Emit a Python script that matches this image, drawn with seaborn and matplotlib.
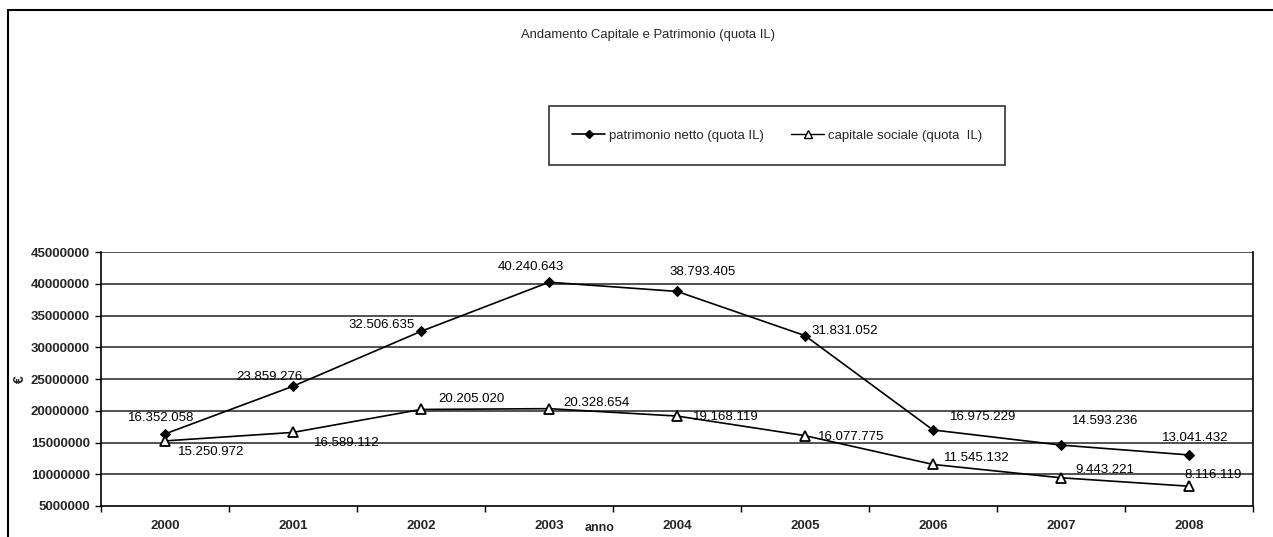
import matplotlib
matplotlib.use("Agg")
import matplotlib.pyplot as plt
from matplotlib.patches import Rectangle
from matplotlib.lines import Line2D
from matplotlib.ticker import FuncFormatter, FixedLocator
import numpy as np
import pandas as pd
import seaborn as sns

# --- data -------------------------------------------------------------
anni = ["2000", "2001", "2002", "2003", "2004", "2005", "2006", "2007", "2008"]
patrimonio_netto = [16352058, 23859276, 32506635, 40240643, 38793405,
                    31831052, 16975229, 14593236, 13041432]
capitale_sociale = [15250972, 16589112, 20205020, 20328654, 19168119,
                    16077775, 11545132, 9443221, 8116119]
serie_patrimonio = "patrimonio netto (quota IL)"
serie_capitale = "capitale sociale (quota  IL)"
titolo = "Andamento Capitale e Patrimonio (quota IL)"
y_ticks = [5000000, 10000000, 15000000, 20000000, 25000000,
           30000000, 35000000, 40000000, 45000000]

# label placement (offset in pixels from each point)
off_patrimonio = [(-4, 16), (-24, 9), (-39, 6), (-18, 15), (26, 19),
                  (40, 5), (50, 13), (44, 24), (6, 17)]
off_capitale = [(46, -11), (54, -11), (50, 10), (47, 6), (49, -1),
                (46, -1), (44, 6), (44, 8), (24, 11)]

df = pd.DataFrame({
    "anno": anni * 2,
    "valore": patrimonio_netto + capitale_sociale,
    "serie": [serie_patrimonio] * len(anni) + [serie_capitale] * len(anni),
})

sns.set_theme(style="white")
plt.rcParams["font.family"] = ["Liberation Sans", "DejaVu Sans"]

fig = plt.figure(figsize=(12.73, 5.37), dpi=100)
ax = fig.add_axes([101 / 1273, 31 / 537, (1253 - 101) / 1273, (506 - 252) / 537])

# horizontal gridlines
for yv in y_ticks[1:]:
    ax.axhline(yv, color="#222222", lw=1.1, zorder=0)

d_pat = df[df["serie"] == serie_patrimonio]
d_cap = df[df["serie"] == serie_capitale]
sns.lineplot(data=d_pat, x="anno", y="valore", ax=ax, color="black", lw=1.2,
             marker="D", markersize=5.5, markerfacecolor="black",
             markeredgecolor="black", legend=False, sort=False, zorder=3)
sns.lineplot(data=d_cap, x="anno", y="valore", ax=ax, color="black", lw=1.2,
             marker="^", markersize=7, markerfacecolor="white",
             markeredgecolor="black", markeredgewidth=1.3, legend=False,
             sort=False, zorder=3)

def fmt_it(v):
    return f"{v:,}".replace(",", ".")

for i, v in enumerate(patrimonio_netto):
    ax.annotate(fmt_it(v), (i, v), xytext=off_patrimonio[i],
                textcoords="offset pixels", ha="center", va="center",
                fontsize=9.5, color="black", zorder=4)
for i, v in enumerate(capitale_sociale):
    ax.annotate(fmt_it(v), (i, v), xytext=off_capitale[i],
                textcoords="offset pixels", ha="center", va="center",
                fontsize=9.5, color="black", zorder=4)

# axes
ax.set_xlim(-0.5, len(anni) - 0.5)
ax.set_ylim(y_ticks[0], y_ticks[-1])
ax.set_yticks(y_ticks)
ax.yaxis.set_major_formatter(FuncFormatter(lambda v, p: f"{int(v)}"))
ax.set_xticks(range(len(anni)))
ax.set_xticklabels(anni)
ax.xaxis.set_minor_locator(FixedLocator(np.arange(-0.5, len(anni), 1.0)))
ax.tick_params(axis="x", which="major", length=0, pad=10, labelsize=9.5)
ax.tick_params(axis="x", which="minor", length=4, width=1, direction="out",
               color="black", bottom=True)
ax.tick_params(axis="y", which="major", length=4, width=1, direction="out",
               color="black", left=True, labelsize=9.5, pad=4)
for lab in ax.get_xticklabels() + ax.get_yticklabels():
    lab.set_fontweight("bold")

for side in ["left", "bottom", "right"]:
    ax.spines[side].set_visible(True)
    ax.spines[side].set_color("black")
    ax.spines[side].set_linewidth(1.2)
ax.spines["top"].set_visible(False)

ax.set_xlabel("anno", fontsize=9, fontweight="bold")
ax.xaxis.set_label_coords((600 - 101) / (1253 - 101), -0.085)
ax.xaxis.label.set_va("center")
ax.set_ylabel("€", fontsize=10, fontweight="bold", rotation=90)
ax.yaxis.set_label_coords(-(101 - 20) / (1253 - 101), 0.5)
ax.yaxis.label.set_va("center")
ax.grid(False)

# title
fig.text(648 / 1273, 1 - 35 / 537, titolo, ha="center", va="center",
         fontsize=9.4)

# legend
handles = [
    Line2D([], [], color="black", lw=1.2, marker="D", markersize=4.5,
           markerfacecolor="black"),
    Line2D([], [], color="black", lw=1.0, marker="^", markersize=6,
           markerfacecolor="white"),
]
leg = fig.legend(handles, [serie_patrimonio, serie_capitale], ncol=2,
                 loc="center", bbox_to_anchor=(777 / 1273, 1 - 135.5 / 537),
                 frameon=True, fancybox=False, edgecolor="black",
                 fontsize=9.5, borderpad=1.8, handlelength=2.5,
                 handletextpad=0.25, columnspacing=2.1, borderaxespad=0)
leg.get_frame().set_linewidth(1.2)

# outer chart frame
fig.patches.append(Rectangle((8 / 1273, -0.2), 1.2, 1.2 - 10 / 537,
                             transform=fig.transFigure, fill=False,
                             edgecolor="black", lw=1.5))

fig.savefig("out.png", dpi=100, facecolor="white")
